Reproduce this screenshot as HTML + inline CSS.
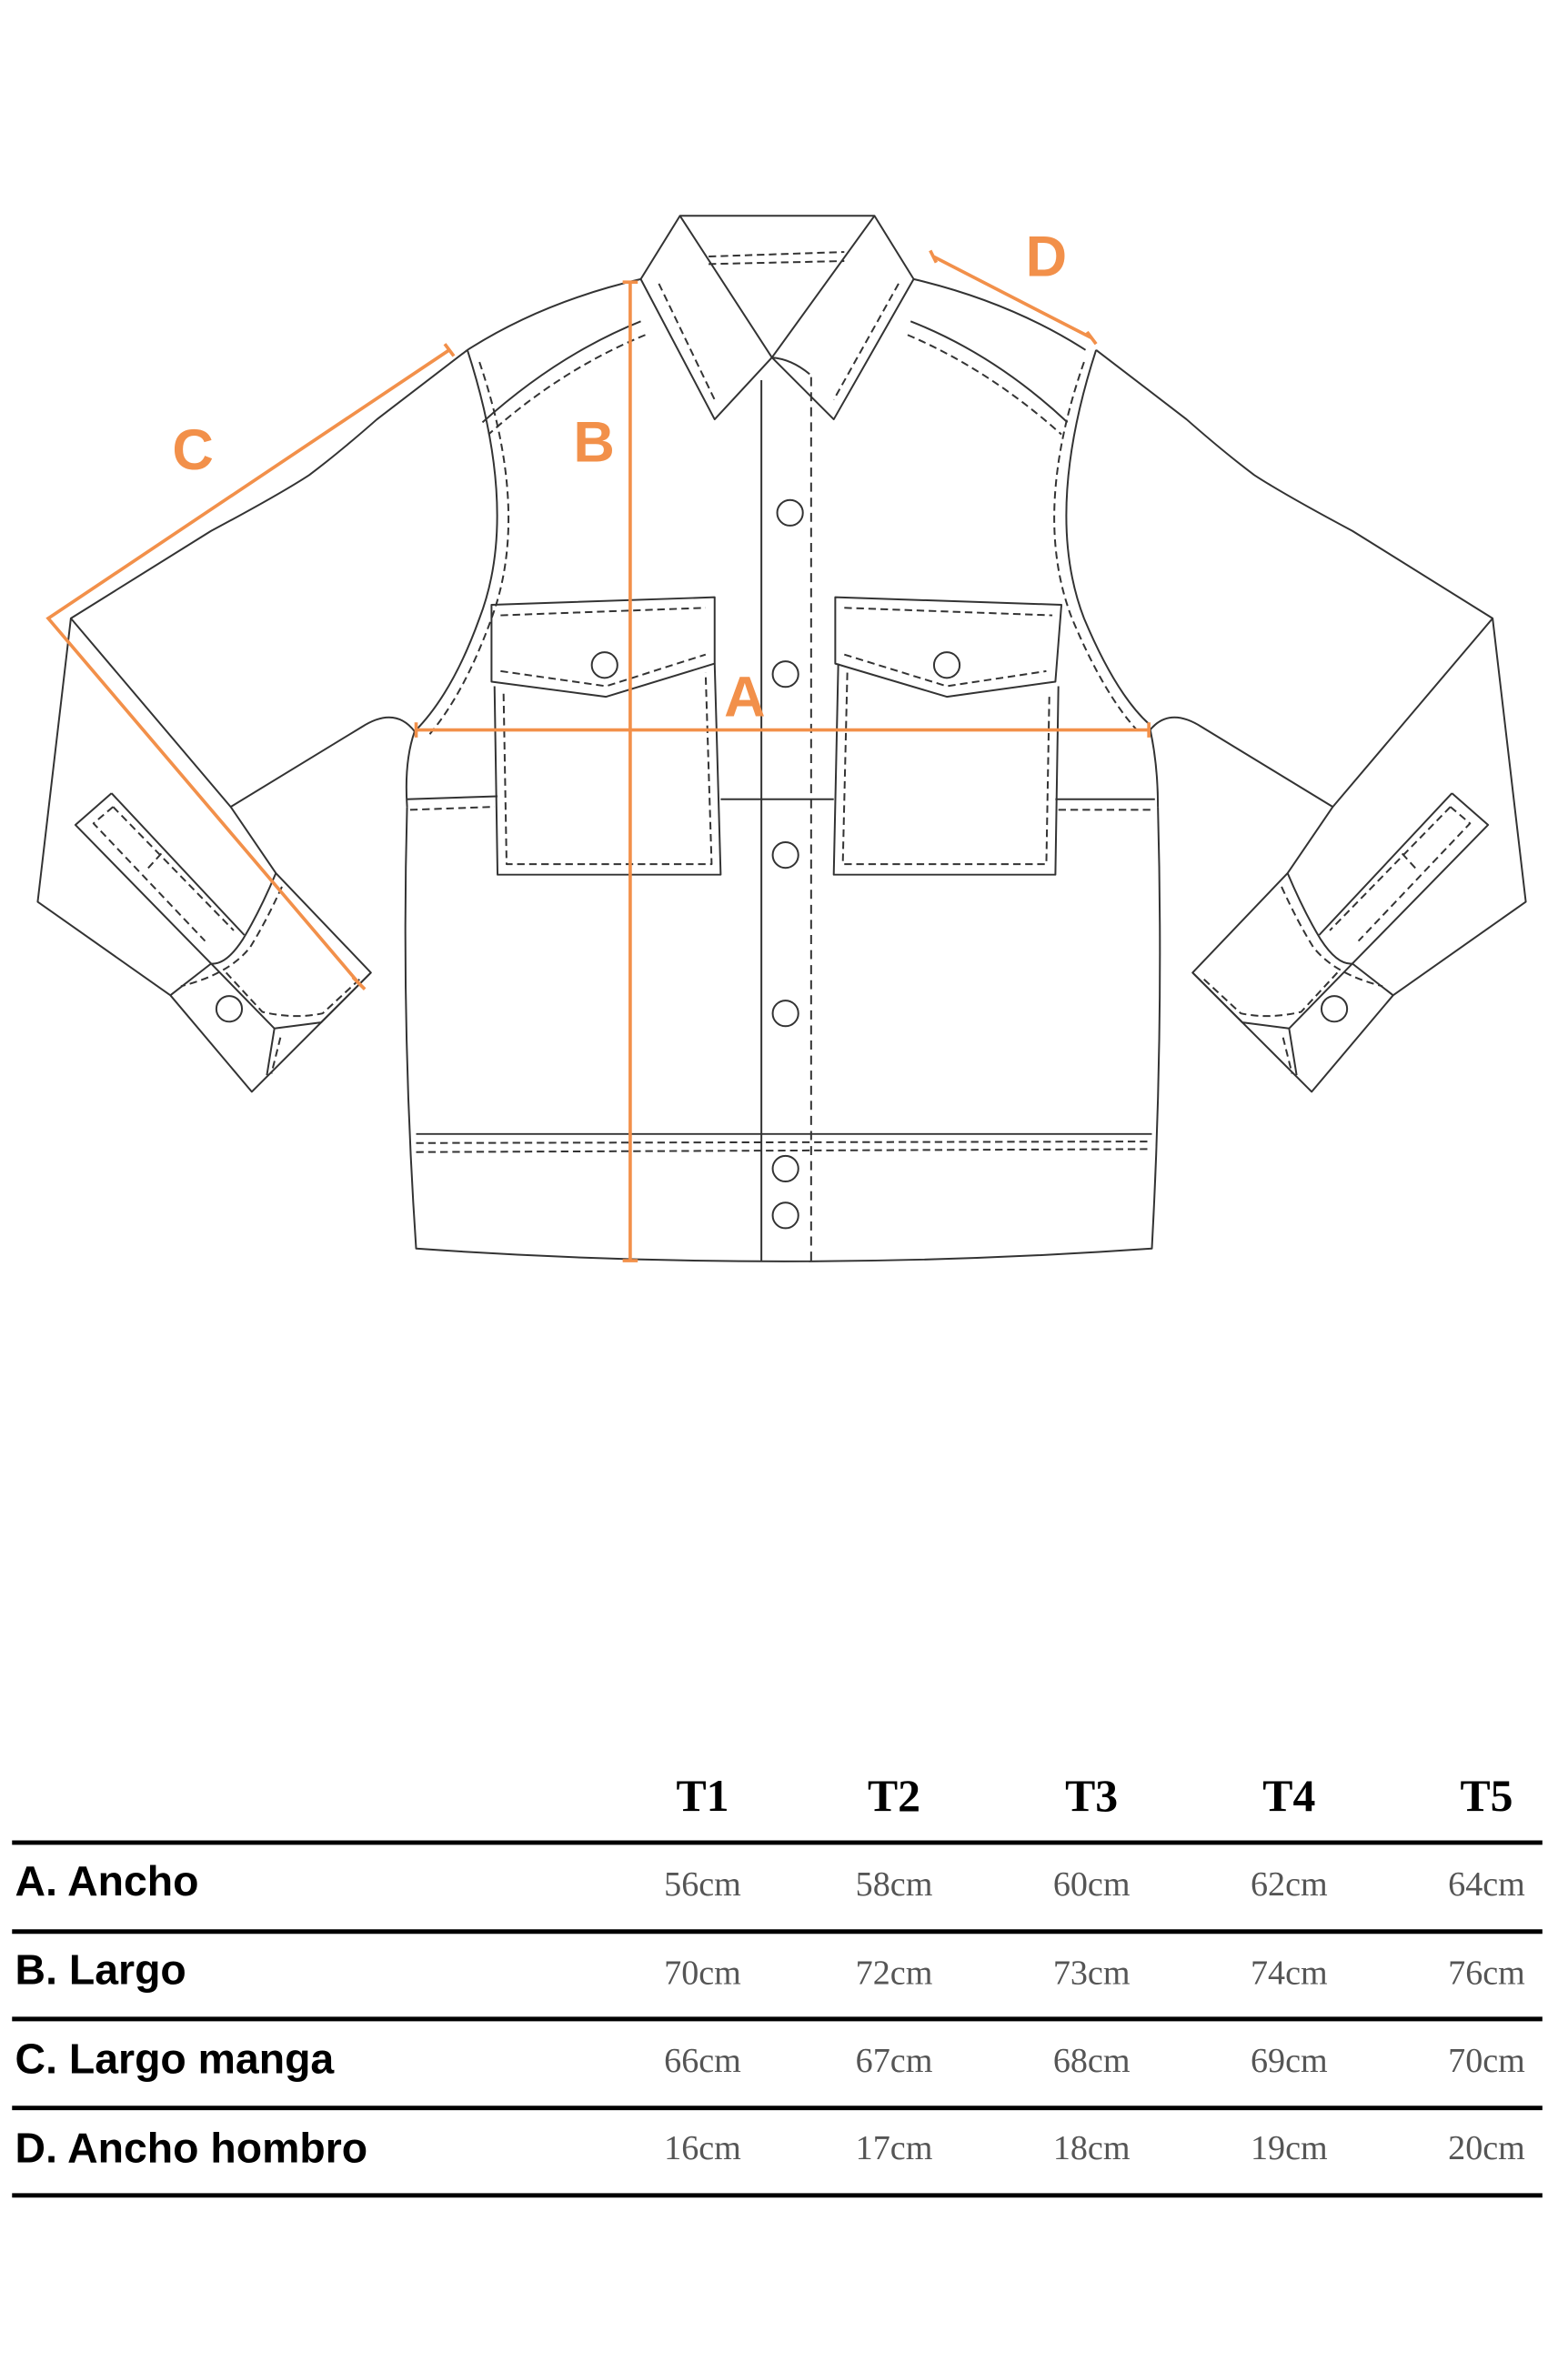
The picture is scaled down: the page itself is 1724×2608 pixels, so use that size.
<!DOCTYPE html>
<html><head><meta charset="utf-8"><style>
html,body{margin:0;padding:0;background:#fff;}
svg{display:block;}
</style></head><body>
<svg width="1724" height="2608" viewBox="0 0 1040 1573" xmlns="http://www.w3.org/2000/svg">
<rect width="1040" height="1573" fill="#fff"/>
<defs>
<g id="sl" fill="none" stroke="#333" stroke-width="1.2" stroke-linejoin="round">
<path d="M310,232 L250,278 Q225,300 205,315 Q185,328 140,352 L47,410 L25,598 L113,660 L167,724 L246,645 L183,579 L153,535 L47,410"/>
<path d="M153,535 L240,482 Q262,468 275,485"/>
<path d="M183,579 Q172,605 161,623 Q150,640 140,639 L113,660"/>
<path d="M187,588 Q176,612 166,628 Q152,646 120,654" stroke-dasharray="5,3"/>
<path d="M140,639 L182,682 L213,678 L246,645 M182,682 L177,713"/>
<path d="M186,688 L180,712 M150,645 L174,671 Q195,676 214,672 L240,648" stroke-dasharray="5,3"/>
<path d="M74,526 L50,547 L140,639 M74,526 L162,620"/>
<path d="M75,535 L62,546 L136,624 M75,535 L155,617 M107,566 L97,577" stroke-dasharray="5,3"/>
<circle cx="152" cy="669" r="8.5"/>
</g>
</defs>
<use href="#sl"/>
<use href="#sl" transform="translate(1037,0) scale(-1,1)"/>
<g fill="none" stroke="#333" stroke-width="1.2" stroke-linejoin="round">
<!-- collar -->
<path d="M451,143 L580,143 L606,185 L553,278 L512,237 L474,278 L425,185 Z"/>
<path d="M451,143 L512,237 L580,143"/>
<path d="M470,170 L560,167" stroke-dasharray="5,3"/>
<path d="M470,175 L560,173" stroke-dasharray="5,3"/>
<path d="M437,188 L474,265 M596,188 L553,265" stroke-dasharray="5,3"/>
<path d="M512,237 Q525,238 537,248"/>
<!-- shoulders -->
<path d="M425,185 Q360,200 310,232"/>
<path d="M606,185 Q670,200 720,232"/>
<path d="M425,213 Q370,235 320,280" /><path d="M428,222 Q372,245 324,288" stroke-dasharray="5,3"/>
<path d="M604,213 Q660,235 708,280" /><path d="M602,222 Q656,245 704,288" stroke-dasharray="5,3"/>
<!-- armholes -->
<path d="M310,232 Q345,340 318,410 Q300,460 275,485 Q268,505 270,535"/>
<path d="M318,240 Q352,340 326,410 Q308,460 284,488" stroke-dasharray="5,3"/>
<path d="M727,232 Q692,340 719,410 Q740,460 762,480 Q768,505 768,535"/>
<path d="M719,240 Q684,340 711,410 Q732,460 754,484" stroke-dasharray="5,3"/>
<!-- body -->
<path d="M270,535 Q266,680 276,828 Q520,845 764,828 Q772,680 768,535"/>
<path d="M270,530 L330,528 M478,530 L553,530 M700,530 L766,530"/>
<path d="M272,537 L328,535 M702,537 L766,537" stroke-dasharray="5,3"/>
<path d="M276,752 L764,752"/>
<path d="M276,758 L764,757 M276,764 L764,762" stroke-dasharray="5,3"/>
<path d="M505,252 L505,836"/>
<path d="M538,250 L538,836" stroke-dasharray="6,4"/>
<!-- pockets -->
<path d="M326,401 L474,396 L474,440 L402,462 L326,452 Z"/>
<path d="M332,408 L468,403 M332,445 L402,455 L468,434" stroke-dasharray="5,3"/>
<path d="M328,455 L330,580 L478,580 L474,440"/>
<path d="M334,460 L336,573 L472,573 L468,446" stroke-dasharray="5,3"/>
<path d="M554,396 L704,401 L700,452 L628,462 L554,440 Z"/>
<path d="M560,403 L698,408 M560,434 L628,455 L694,445" stroke-dasharray="5,3"/>
<path d="M556,440 L553,580 L700,580 L702,455"/>
<path d="M562,446 L559,573 L694,573 L696,460" stroke-dasharray="5,3"/>
<circle cx="401" cy="441" r="8.5"/><circle cx="628" cy="441" r="8.5"/>
<circle cx="524" cy="340" r="8.5"/><circle cx="521" cy="447" r="8.5"/><circle cx="521" cy="567" r="8.5"/>
<circle cx="521" cy="672" r="8.5"/><circle cx="521" cy="775" r="8.5"/><circle cx="521" cy="806" r="8.5"/>
</g>
<!-- orange measures -->
<g stroke="#f2904a" stroke-width="2.2" fill="none">
<path d="M418,187 L418,836 M413,187 L423,187 M413,836 L423,836"/>
<path d="M276,484 L762,484 M276,479 L276,489 M762,479 L762,489"/>
<path d="M298,232 L32,410 L238,652 M295,228 L301,236 M234,648 L242,656"/>
<path d="M619,170 L724,224 M617,166 L621,174 M721,220 L727,228"/>
</g>
<g fill="#f2904a" font-family="Liberation Sans, sans-serif" font-weight="bold" font-size="38" text-anchor="middle">
<text x="494" y="475">A</text><text x="394" y="306">B</text><text x="128" y="311">C</text><text x="694" y="183">D</text>
</g>
<!-- table -->
<g fill="#000" font-family="Liberation Serif, serif" font-weight="bold" font-size="30" text-anchor="middle">
<text x="466" y="1201">T1</text><text x="593" y="1201">T2</text><text x="724" y="1201">T3</text><text x="855" y="1201">T4</text><text x="986" y="1201">T5</text>
</g>
<g stroke="#000" stroke-width="3">
<path d="M8,1222 L1023,1222 M8,1281 L1023,1281 M8,1339 L1023,1339 M8,1398 L1023,1398 M8,1456 L1023,1456"/>
</g>
<g fill="#000" font-family="Liberation Sans, sans-serif" font-weight="bold" font-size="28">
<text x="10" y="1257">A. Ancho</text><text x="10" y="1316">B. Largo</text><text x="10" y="1375">C. Largo manga</text><text x="10" y="1434">D. Ancho hombro</text>
</g>
<g fill="#555" font-family="Liberation Serif, serif" font-size="23" text-anchor="middle">
<text x="466" y="1257">56cm</text><text x="593" y="1257">58cm</text><text x="724" y="1257">60cm</text><text x="855" y="1257">62cm</text><text x="986" y="1257">64cm</text>
<text x="466" y="1316">70cm</text><text x="593" y="1316">72cm</text><text x="724" y="1316">73cm</text><text x="855" y="1316">74cm</text><text x="986" y="1316">76cm</text>
<text x="466" y="1374">66cm</text><text x="593" y="1374">67cm</text><text x="724" y="1374">68cm</text><text x="855" y="1374">69cm</text><text x="986" y="1374">70cm</text>
<text x="466" y="1432">16cm</text><text x="593" y="1432">17cm</text><text x="724" y="1432">18cm</text><text x="855" y="1432">19cm</text><text x="986" y="1432">20cm</text>
</g>
</svg>
</body></html>
